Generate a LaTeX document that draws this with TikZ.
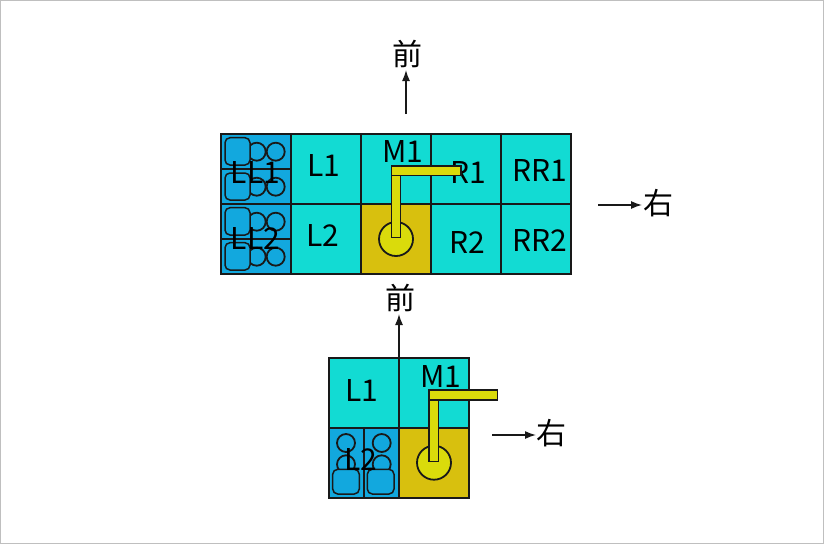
\documentclass[tikz,border=0pt]{standalone}
\usepackage{fontspec}
\setmainfont{Noto Sans CJK SC}
\usetikzlibrary{arrows.meta}
\definecolor{cellc}{HTML}{12DBD3}
\definecolor{bluec}{HTML}{12A8DE}
\definecolor{basec}{HTML}{D8C00E}
\definecolor{armc}{HTML}{DADB0B}
\colorlet{inkc}{black!90}
\tikzset{
 cell/.style={draw=inkc,line width=1.9pt,fill=cellc},
 bluecell/.style={cell,fill=bluec},
 basecell/.style={cell,fill=basec},
 seat/.style={draw=inkc,line width=1.8pt,circle,minimum size=18pt,inner sep=0pt},
 pad/.style={draw=inkc,line width=1.5pt,fill=bluec,rounded corners=5pt},
 arm/.style={draw=inkc,line width=1.5pt,fill=armc},
 joint/.style={draw=inkc,line width=1.8pt,fill=armc,circle,minimum size=34pt,inner sep=0pt},
 lab/.style={inner sep=0pt,font=\fontsize{30}{30}\selectfont,text=black},
 dirline/.style={draw=inkc,line width=1.4pt,-{Latex[length=11pt,width=8pt]}}
}
\begin{document}
\begin{tikzpicture}[x=1pt,y=-1pt]
\useasboundingbox (0,0) rectangle (824,544);
\draw[draw=black!25,line width=1.5pt,fill=white] (0.5,0.5) rectangle (823.5,543.5);
% upper grid
\draw[bluecell] (221,134) rectangle (291,169);
\draw[bluecell] (221,169) rectangle (291,204);
\draw[bluecell] (221,204) rectangle (291,239);
\draw[bluecell] (221,239) rectangle (291,274);
\foreach \x/\y/\w in {291/134/70,361/134/70,431/134/70,501/134/70,291/204/70,431/204/70,501/204/70}
  \draw[cell] (\x,\y) rectangle ++(\w,70);
\draw[basecell] (361,204) rectangle (431,274);
\foreach \n/\y in {a/151.7,b/186.7,c/221.7,d/256.7}{
  \node[seat] (s1\n) at (256.7,\y) {};
  \node[seat] (s2\n) at (275.7,\y) {};
}
\draw[pad] (225,137.7) rectangle (250,165);
\draw[pad] (225,173) rectangle (250,200);
\draw[pad] (225,207.7) rectangle (250,235);
\draw[pad] (225,242.7) rectangle (250,270);
\node[lab] (tLL1) at (255.5,172) {LL1};
\node[lab] (tLL2) at (255.5,238) {LL2};
\node[lab] (tL1) at (323.5,166) {L1};
\node[lab] (tL2) at (322.5,235) {L2};
\node[lab] (tM1) at (402.5,152) {M1};
\node[lab] (tR1) at (468,173) {R1};
\node[lab] (tR2) at (467,242) {R2};
\node[lab] (tRR1) at (540,171) {RR1};
\node[lab] (tRR2) at (539.5,240) {RR2};
\node[joint] (j1) at (396,239) {};
\draw[arm] (391.7,166) rectangle (400.5,237.7);
\draw[arm] (391.7,166) rectangle (461,175.7);
% lower grid
\draw[cell] (329,358) rectangle (399,428);
\draw[cell] (399,358) rectangle (469,428);
\draw[bluecell] (329,428) rectangle (364,498);
\draw[bluecell] (364,428) rectangle (399,498);
\draw[basecell] (399,428) rectangle (469,498);
\node[seat] (s3a) at (346,443) {};
\node[seat] (s3b) at (381.7,443) {};
\node[seat] (s3c) at (346,464.3) {};
\node[seat] (s3d) at (381.7,464.3) {};
\draw[pad] (332.7,469.3) rectangle (359.3,494);
\draw[pad] (367.3,469.3) rectangle (394,494);
\node[lab] (bL2) at (360.5,459) {L2};
\node[lab] (bL1) at (361.5,390) {L1};
\node[lab] (bM1) at (440.5,376) {M1};
\node[joint] (j2) at (434,462.7) {};
\draw[arm] (429,390) rectangle (438.3,461.7);
\draw[arm] (429,390) rectangle (497.7,400);
% direction arrows
\node[lab] (f1) at (407,54) {前};
\node[lab] (r1) at (658,203) {右};
\node[lab] (f2) at (400,298) {前};
\node[lab] (r2) at (551.5,433) {右};
\coordinate (f1s) at (406,114);
\coordinate (f1e) at (406,70);
\coordinate (r1s) at (598,205);
\coordinate (r1e) at (642,205);
\coordinate (f2s) at (399,358);
\coordinate (f2e) at (399,314);
\coordinate (r2s) at (492,435);
\coordinate (r2e) at (536,435);
\draw[dirline] (f1s) -- (f1e);
\draw[dirline] (r1s) -- (r1e);
\draw[dirline] (f2s) -- (f2e);
\draw[dirline] (r2s) -- (r2e);
\end{tikzpicture}
\end{document}
